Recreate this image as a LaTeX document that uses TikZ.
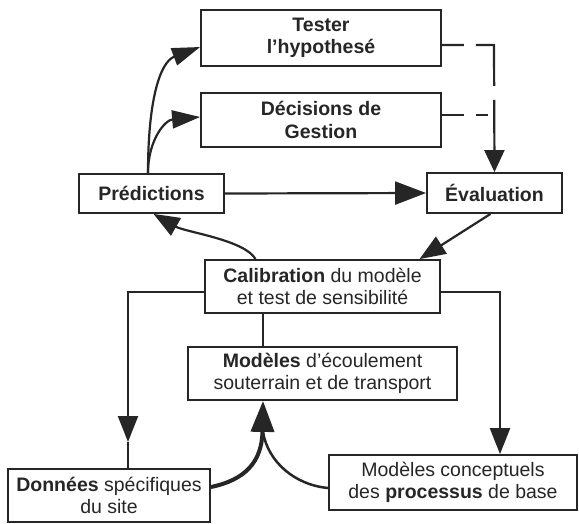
\documentclass[tikz,border=0pt]{standalone}
\usepackage{fontspec}
\setmainfont{Liberation Sans}
\usetikzlibrary{arrows.meta}
\definecolor{ink}{HTML}{262626}
\begin{document}
\begin{tikzpicture}[x=1pt,y=-1pt,
  box/.style={draw=ink, line width=1.8pt, fill=white, align=center, inner sep=0pt,
              font=\fontsize{19.5}{22.5}\selectfont, text=ink},
  bbox/.style={box, font=\fontsize{19.5}{22.5}\selectfont\bfseries},
  conn/.style={draw=ink, line width=2.2pt},
  arr/.style={-{Triangle[length=26pt,width=20pt]}},
  arrbig/.style={-{Triangle[length=31pt,width=23pt]}},
  arrmid/.style={-{Triangle[length=28pt,width=18pt]}},
]
\useasboundingbox (0,0) rectangle (579,523);

\node[bbox, minimum width=240pt, minimum height=56pt] (tester) at (321,38) {Tester\\l'hypothesé};
\node[bbox, minimum width=240pt, minimum height=54pt] (decis) at (321,120) {Décisions de\\Gestion};
\node[bbox, minimum width=145pt, minimum height=39pt] (pred) at (151.5,193.5) {Prédictions};
\node[bbox, minimum width=135pt, minimum height=40pt] (eval) at (494.5,193) {Évaluation};
\node[box, minimum width=235pt, minimum height=53pt] (calib) at (322.5,286.5) {\textbf{Calibration} du modèle\\et test de sensibilité};
\node[box, minimum width=269pt, minimum height=53pt] (model) at (322.5,373.5) {\textbf{Modèles} d'écoulement\\souterrain et de transport};
\node[box, minimum width=202pt, minimum height=53pt] (donnees) at (109,495.5) {\textbf{Données} spécifiques\\du site};
\node[box, minimum width=248pt, minimum height=55pt] (concept) at (453,482.5) {Modèles conceptuels\\des \textbf{processus} de base};

% top part
\draw[conn, arrmid] ([xshift=-3.5pt]pred.north) .. controls (148,100) and (160,62) .. ([yshift=-9pt]tester.west);
\draw[conn, arrmid] ([xshift=-3.5pt]pred.north) .. controls (148,140) and (165,120) .. ([yshift=3pt]decis.west);
\draw[conn, arrbig] (pred.east) -- (eval.west);
\coordinate (dc) at (494,45);
\draw[conn, dash pattern=on 22pt off 12pt on 59pt off 14pt on 400pt, -{Triangle[length=22pt,width=20pt]}]
  ([yshift=-7pt]tester.east) -- (dc) -- (eval.north);
\draw[conn, dash pattern=on 22pt off 12pt] ([yshift=5pt]decis.east) -- ++(46,0);
\draw[conn, arr] ([xshift=-4pt]eval.south) -- ([xshift=97pt]calib.north);
\draw[conn, arr] ([xshift=-67pt]calib.north) .. controls (245,240) and (185,232) .. ([xshift=2pt]pred.south);

% lower part
\coordinate (la) at (128,442);
\draw[conn, arr] ([yshift=-5.5pt]calib.west) -| (la);
\draw[conn] (la) -- ([xshift=19pt]donnees.north);
\draw[conn, arr] ([yshift=-5.5pt]calib.east) -| ([xshift=47pt]concept.north);
\draw[conn] ([xshift=-59.5pt]calib.south) -- ([xshift=-59.5pt]model.north);
\coordinate (j) at (263,432);
\draw[conn, line width=2.5pt] ([yshift=-5.5pt]concept.west) .. controls (295,485) and (268,462) .. (j);
\draw[conn, line width=4pt, arrbig] ([yshift=8.5pt]donnees.east) .. controls (245,480) and (262,462) .. ([xshift=-59.5pt]model.south);
\end{tikzpicture}
\end{document}
